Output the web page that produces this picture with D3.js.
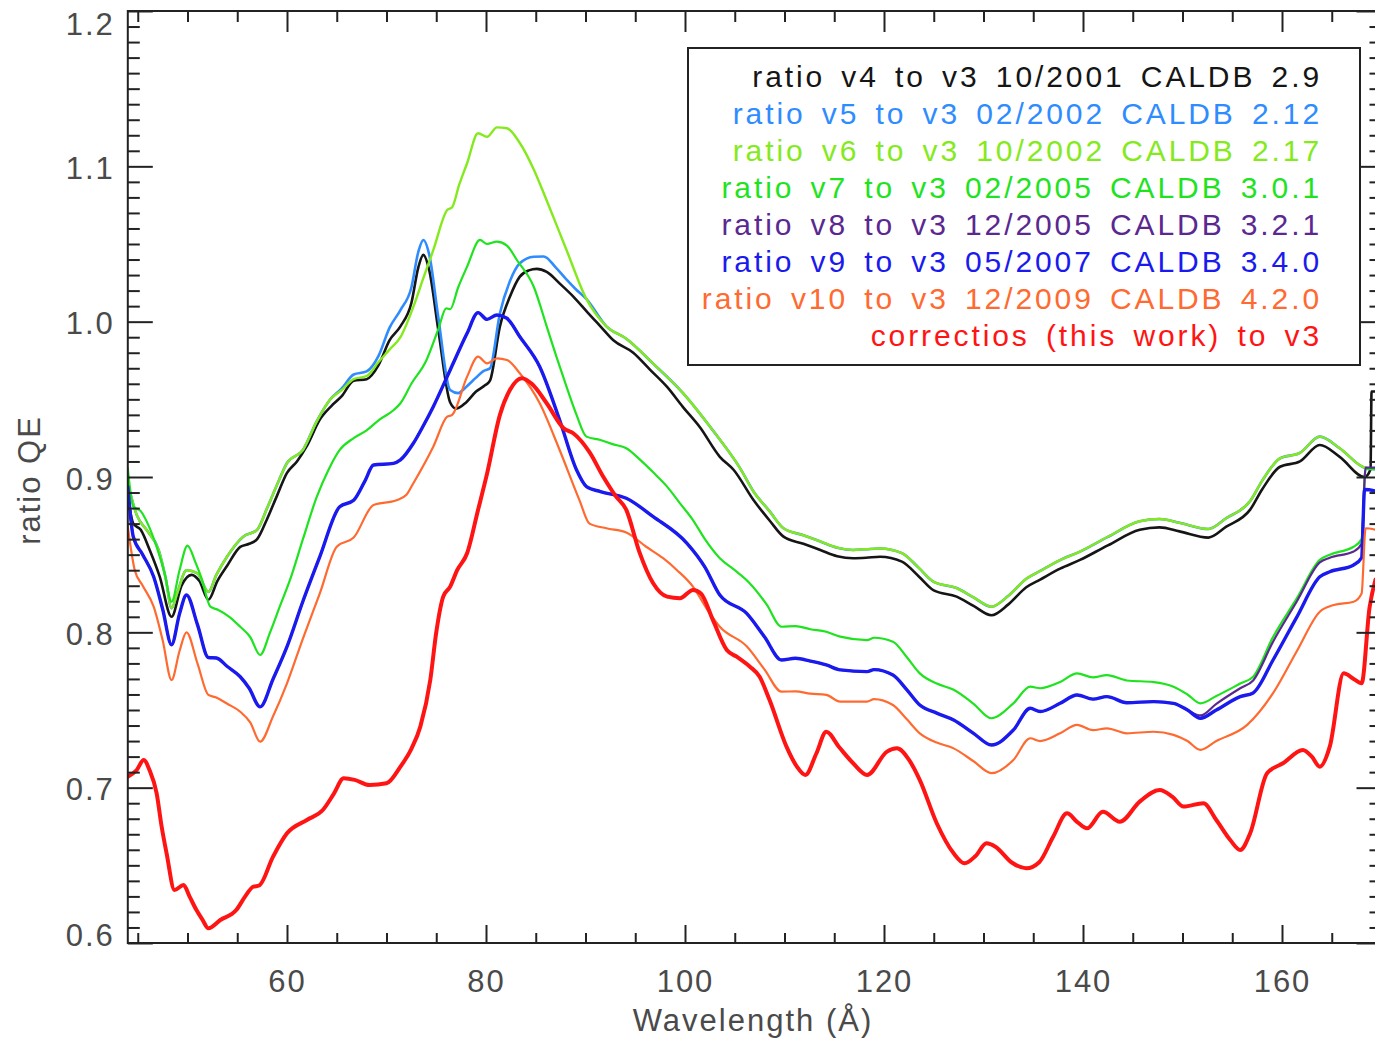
<!DOCTYPE html>
<html>
<head>
<meta charset="utf-8">
<script src="https://cdn.jsdelivr.net/npm/d3@7"></script>
<style>
  html, body { margin: 0; padding: 0; background: #fff; }
  svg { display: block; }
  text { font-family: "Liberation Sans", Arial, sans-serif; }
</style>
</head>
<body>
<svg id="chart" width="1375" height="1041"></svg>
<script>
// ---- data: ratio of QE versions to v3, sampled along wavelength (Angstrom) ----
const v4Wave = [44.0,44.55,45.3,46.2,47.2,48.4,49.4,50.4,51.2,52.1,53.0,54.0,55.3,56.2,57.0,58.0,59.0,60.0,61.0,62.0,63.3,64.5,65.5,66.7,68.0,69.2,70.3,71.4,72.5,73.2,73.7,74.3,75.2,76.4,77.0,78.0,79.0,79.9,80.4,81.4,82.4,83.4,84.3,85.1,86.1,87.5,88.8,90.2,91.5,92.8,94.8,96.5,98.2,99.8,101.5,103.5,104.9,106.9,108.5,109.9,111.9,113.6,115.3,116.9,118.2,119.6,121.8,123.5,125.0,127.3,129.0,130.8,132.5,134.3,135.7,137.7,139.7,142.5,145.7,147.7,149.7,152.6,154.4,156.8,158.0,159.8,161.8,163.8,165.8,168.3,168.9,169.0,169.4];
const v4Ratio = [0.888,0.870,0.866,0.853,0.836,0.810,0.830,0.837,0.833,0.821,0.833,0.843,0.855,0.857,0.860,0.873,0.888,0.9026,0.910,0.920,0.937,0.946,0.952,0.962,0.963,0.972,0.988,0.997,1.012,1.035,1.043,1.033,0.995,0.948,0.944,0.948,0.955,0.959,0.962,0.997,1.016,1.029,1.033,1.034,1.032,1.024,1.016,1.006,0.997,0.988,0.980,0.969,0.958,0.945,0.932,0.913,0.9045,0.885,0.872,0.8616,0.857,0.853,0.849,0.8477,0.848,0.8487,0.8455,0.836,0.827,0.823,0.817,0.811,0.818,0.829,0.834,0.841,0.8466,0.856,0.866,0.8676,0.865,0.861,0.868,0.879,0.892,0.9066,0.910,0.9206,0.913,0.900,0.905,0.955,0.955];

const v5Wave = [44.0,44.9,46.0,47.1,47.8,48.4,49.0,49.9,51.0,52.1,52.9,54.0,55.6,57.0,58.0,59.0,60.0,61.6,63.0,64.3,65.5,66.7,68.0,69.2,70.3,71.4,72.5,73.2,73.7,74.3,75.2,76.4,77.2,78.0,79.0,79.7,80.4,81.4,82.4,83.4,84.8,85.8,87.0,88.1,89.0,90.1,92.1,94.1,96.8,99.8,102.8,105.5,106.9,108.5,109.9,111.9,113.6,115.3,116.9,118.2,119.6,121.8,123.5,125.0,127.3,129.0,130.8,132.5,134.3,135.7,137.7,139.7,142.5,145.7,147.7,149.7,152.6,154.4,156.8,158.0,159.8,161.8,163.8,165.8,168.3,169.4];
const v5Ratio = [0.896,0.8755,0.865,0.853,0.835,0.8155,0.826,0.840,0.838,0.826,0.837,0.849,0.8616,0.866,0.880,0.895,0.909,0.9174,0.936,0.9496,0.957,0.966,0.968,0.978,0.996,1.0075,1.022,1.045,1.0526,1.043,1.003,0.956,0.954,0.958,0.964,0.968,0.970,1.0054,1.026,1.0376,1.0418,1.042,1.035,1.027,1.021,1.0145,0.997,0.989,0.973,0.954,0.930,0.906,0.8905,0.878,0.867,0.8625,0.8585,0.8545,0.853,0.8535,0.854,0.851,0.8415,0.8325,0.8285,0.8225,0.8165,0.8235,0.8345,0.8395,0.8465,0.852,0.8615,0.8715,0.873,0.8705,0.8665,0.8735,0.8845,0.8975,0.912,0.9155,0.926,0.9185,0.906,0.905];

const v6Wave = [44.0,44.9,46.0,47.1,47.8,48.4,49.0,49.9,51.0,52.1,52.9,54.0,55.6,57.0,58.0,59.0,60.0,61.6,63.0,64.3,65.5,66.7,68.0,69.2,70.3,71.4,72.7,73.7,74.7,76.1,76.6,77.3,78.1,79.2,80.1,81.1,82.1,83.4,84.8,86.1,88.1,90.1,92.1,94.1,96.8,99.8,102.8,105.5,106.9,108.5,109.9,111.9,113.6,115.3,116.9,118.2,119.6,121.8,123.5,125.0,127.3,129.0,130.8,132.5,134.3,135.7,137.7,139.7,142.5,145.7,147.7,149.7,152.6,154.4,156.8,158.0,159.8,161.8,163.8,165.8,168.3,169.4];
const v6Ratio = [0.896,0.8755,0.865,0.853,0.835,0.8155,0.826,0.840,0.838,0.826,0.837,0.849,0.8616,0.866,0.880,0.895,0.909,0.9174,0.936,0.9496,0.956,0.963,0.965,0.974,0.982,0.990,1.0096,1.028,1.046,1.0719,1.0737,1.088,1.102,1.1213,1.119,1.1251,1.1245,1.115,1.098,1.078,1.046,1.0145,0.997,0.989,0.973,0.954,0.930,0.906,0.8905,0.878,0.867,0.8625,0.8585,0.8545,0.853,0.8535,0.854,0.851,0.8415,0.8325,0.8285,0.8225,0.8165,0.8235,0.8345,0.8395,0.8465,0.852,0.8615,0.8715,0.873,0.8705,0.8665,0.8735,0.8845,0.8975,0.912,0.9155,0.926,0.9185,0.906,0.905];

const v7Wave = [44.0,44.55,45.3,46.0,46.9,47.7,48.4,49.2,50.0,50.8,51.4,52.3,53.1,54.2,55.3,56.3,57.3,58.3,59.3,60.3,61.6,63.0,64.2,65.3,66.7,68.0,69.3,70.7,71.4,72.5,74.0,75.2,76.0,76.4,77.2,78.1,79.4,80.1,81.1,82.1,83.1,84.8,86.1,87.1,88.1,89.1,90.1,91.5,92.8,94.1,95.5,96.8,98.2,99.5,100.8,102.0,103.5,105.0,106.5,108.2,109.7,111.1,112.6,114.2,115.6,118.3,119.0,120.9,122.3,123.6,125.3,127.0,129.0,130.8,133.0,134.7,135.7,137.7,139.4,141.0,142.4,144.4,147.1,149.1,150.5,151.8,153.4,155.8,157.1,159.1,161.5,163.8,164.8,167.2,168.0,168.4,169.4];
const v7Ratio = [0.9056,0.881,0.878,0.870,0.855,0.838,0.8197,0.840,0.8558,0.845,0.835,0.8165,0.8144,0.810,0.8036,0.797,0.7854,0.800,0.817,0.8337,0.860,0.8873,0.905,0.9174,0.925,0.930,0.937,0.943,0.9475,0.960,0.975,0.995,1.0086,1.008,1.022,1.0354,1.0526,1.050,1.0515,1.049,1.0397,1.0225,0.997,0.977,0.958,0.940,0.926,0.9238,0.921,0.9185,0.911,0.903,0.8938,0.883,0.8723,0.860,0.8477,0.840,0.8316,0.818,0.8036,0.804,0.802,0.8004,0.7972,0.795,0.7965,0.794,0.784,0.7736,0.767,0.763,0.754,0.7447,0.7543,0.765,0.764,0.768,0.7736,0.771,0.7725,0.769,0.768,0.765,0.760,0.7543,0.759,0.767,0.7714,0.797,0.822,0.8466,0.850,0.8551,0.860,0.905,0.905];

const v9Wave = [44.0,44.55,45.5,46.6,47.5,48.4,49.2,49.9,51.0,52.1,52.9,54.0,55.3,56.2,57.3,58.6,60.0,61.6,63.3,65.3,66.7,67.8,68.7,70.7,71.4,72.7,73.7,74.7,76.4,78.1,79.2,80.1,81.1,82.1,83.4,85.4,87.4,89.1,90.1,91.5,94.1,96.8,100.2,102.0,103.5,106.2,108.0,109.7,111.1,112.6,114.2,115.6,118.3,119.0,120.9,122.3,123.6,125.3,127.0,129.0,130.8,133.0,134.7,135.7,137.7,139.4,141.0,142.4,144.4,147.1,149.1,150.5,151.8,153.4,155.8,157.1,159.1,161.5,163.8,164.8,167.2,168.0,168.3,169.4];
const v9Ratio = [0.8938,0.8616,0.850,0.8358,0.815,0.792,0.812,0.824,0.805,0.7838,0.7835,0.778,0.7714,0.764,0.752,0.770,0.7908,0.820,0.8487,0.8809,0.885,0.897,0.9077,0.9088,0.911,0.9217,0.933,0.9453,0.9689,0.9925,1.0058,1.0015,1.0043,1.0022,0.9903,0.971,0.9367,0.9045,0.8938,0.8906,0.8863,0.8745,0.8573,0.842,0.824,0.8122,0.797,0.7822,0.7833,0.7815,0.779,0.7758,0.7747,0.776,0.7725,0.763,0.7532,0.748,0.7436,0.735,0.7275,0.7371,0.7511,0.749,0.7543,0.7597,0.757,0.7586,0.7547,0.7554,0.7543,0.750,0.7447,0.750,0.7586,0.761,0.7822,0.810,0.8358,0.839,0.8434,0.848,0.892,0.891];

// v8 runs under v9 up to ~150 A, then separates towards v7
const v8SharedCount = v9Wave.filter(w => w <= 150.5).length;
const v8Wave = v9Wave.slice(0, v8SharedCount).concat([151.8,153.4,155.8,157.1,159.1,161.5,163.8,164.8,167.2,168.0,168.4,169.4]);
const v8Ratio = v9Ratio.slice(0, v8SharedCount).concat([0.7465,0.754,0.764,0.769,0.794,0.820,0.845,0.848,0.852,0.857,0.906,0.906]);

const v10Wave = [44.0,44.7,45.5,46.6,47.5,48.4,49.2,49.9,51.0,52.1,52.9,54.0,55.3,56.3,57.3,58.6,60.0,61.6,63.3,65.0,66.7,68.7,71.0,72.0,72.7,74.7,76.1,76.6,78.1,79.2,80.1,81.1,82.1,83.4,85.4,87.4,89.4,90.4,92.1,94.1,96.1,97.8,99.2,100.8,102.2,103.5,106.2,108.0,109.7,111.1,112.6,114.2,115.6,118.3,119.0,120.9,122.3,123.6,125.3,127.0,129.0,130.8,133.0,134.7,135.7,137.7,139.4,141.0,142.4,144.4,147.1,149.1,150.5,151.8,153.4,156.5,159.1,161.5,163.8,165.2,167.2,168.0,168.4,169.4];
const v10Ratio = [0.868,0.840,0.830,0.8165,0.795,0.7693,0.788,0.800,0.780,0.7597,0.758,0.754,0.7489,0.742,0.7296,0.746,0.7672,0.796,0.8251,0.8551,0.861,0.882,0.885,0.8885,0.896,0.9195,0.9388,0.940,0.9646,0.9775,0.9732,0.9764,0.9753,0.9668,0.9475,0.9174,0.885,0.870,0.867,0.8643,0.8551,0.8477,0.840,0.8294,0.815,0.8036,0.791,0.776,0.7618,0.762,0.7605,0.7597,0.7554,0.7554,0.757,0.7532,0.744,0.735,0.729,0.7253,0.717,0.7093,0.7178,0.7318,0.730,0.735,0.7404,0.737,0.7382,0.735,0.736,0.734,0.730,0.7243,0.730,0.7404,0.7608,0.788,0.8133,0.8176,0.8197,0.825,0.867,0.866];

const corrWave = [44.0,44.9,45.6,46.2,46.9,47.4,47.9,48.7,49.6,50.2,50.9,51.5,52.1,53.3,54.9,55.8,56.6,57.2,58.6,60.0,62.0,63.6,64.7,65.7,66.8,68.3,70.0,71.4,72.5,73.4,74.4,75.0,75.7,76.4,77.1,78.1,79.2,80.1,81.4,82.4,83.6,84.6,86.1,87.8,88.8,90.4,91.8,93.0,94.1,95.4,96.8,98.2,99.5,100.8,101.6,102.8,104.2,105.2,106.5,107.5,108.5,110.2,111.2,112.1,113.2,114.2,115.5,116.9,118.3,120.3,121.3,122.5,123.6,125.3,127.0,128.1,129.2,130.3,131.2,132.8,134.3,135.6,137.0,138.4,139.4,140.4,142.0,143.7,145.7,147.7,149.0,150.1,152.1,153.4,154.8,155.8,156.8,158.5,160.1,162.1,163.0,163.8,164.8,166.2,167.2,168.0,168.8,169.4];
const corrRatio = [0.7071,0.7114,0.7178,0.711,0.6964,0.675,0.6577,0.6341,0.6373,0.630,0.6212,0.615,0.6095,0.6148,0.6212,0.630,0.6362,0.637,0.6556,0.6706,0.6792,0.6856,0.696,0.706,0.705,0.7017,0.7028,0.7135,0.725,0.7393,0.7693,0.800,0.823,0.8294,0.840,0.8509,0.8788,0.902,0.940,0.956,0.9636,0.960,0.9475,0.9314,0.928,0.916,0.900,0.888,0.8788,0.852,0.8316,0.823,0.822,0.8273,0.825,0.808,0.7886,0.7843,0.778,0.7714,0.7564,0.7264,0.714,0.7082,0.722,0.736,0.726,0.7157,0.7082,0.7232,0.7253,0.718,0.7049,0.6771,0.6577,0.6513,0.656,0.6642,0.662,0.652,0.6481,0.652,0.6684,0.6835,0.678,0.6738,0.6845,0.6781,0.691,0.6985,0.694,0.6878,0.690,0.6792,0.6663,0.6599,0.6706,0.7093,0.7157,0.7243,0.720,0.7135,0.7264,0.7736,0.770,0.7672,0.816,0.834];

const seriesLabels = [
  "ratio v4 to v3 10/2001 CALDB 2.9",
  "ratio v5 to v3 02/2002 CALDB 2.12",
  "ratio v6 to v3 10/2002 CALDB 2.17",
  "ratio v7 to v3 02/2005 CALDB 3.0.1",
  "ratio v8 to v3 12/2005 CALDB 3.2.1",
  "ratio v9 to v3 05/2007 CALDB 3.4.0",
  "ratio v10 to v3 12/2009 CALDB 4.2.0",
  "correctios (this work) to v3"
];
const seriesWaves = [v4Wave, v5Wave, v6Wave, v7Wave, v8Wave, v9Wave, v10Wave, corrWave];
const seriesRatios = [v4Ratio, v5Ratio, v6Ratio, v7Ratio, v8Ratio, v9Ratio, v10Ratio, corrRatio];

const xMajorTicks = [60, 80, 100, 120, 140, 160];
const yMajorTicks = [0.6, 0.7, 0.8, 0.9, 1.0, 1.1, 1.2];

// ---- styling ----
const seriesColors = ["#151515", "#2f8cff", "#84ea1e", "#1fe31f", "#5a2890", "#1a1aee", "#ff6a30", "#ff1414"];
const seriesWidths = [2.6, 2.6, 2.4, 2.2, 2.2, 3.4, 2.2, 4.0];

const svg = d3.select("#chart");
const W = 1375, H = 1041;
const plotLeft = 127.8, plotRight = 1381.5, plotTop = 11, plotBottom = 943;

const x = d3.scaleLinear().domain([44, 170]).range([plotLeft, plotRight]);
const y = d3.scaleLinear().domain([0.6, 1.2]).range([plotBottom, plotTop]);

svg.append("rect").attr("width", W).attr("height", H).attr("fill", "#fff");

svg.append("defs").append("clipPath").attr("id", "plotClip")
  .append("rect").attr("x", plotLeft).attr("y", plotTop)
  .attr("width", plotRight - plotLeft).attr("height", plotBottom - plotTop);

// ---- curves ----
const line = d3.line()
  .x(d => x(d[0]))
  .y(d => y(d[1]))
  .curve(d3.curveMonotoneX);

const curves = svg.append("g").attr("clip-path", "url(#plotClip)");
seriesWaves.forEach((w, i) => {
  const pts = w.map((v, j) => [v, seriesRatios[i][j]]);
  curves.append("path")
    .attr("d", line(pts))
    .attr("fill", "none")
    .attr("stroke", seriesColors[i])
    .attr("stroke-width", seriesWidths[i])
    .attr("stroke-linejoin", "round")
    .attr("stroke-linecap", "round");
});

// ---- axes ----
const axisColor = "#222";
const labelColor = "#4a4a4a";
const xMinor = d3.range(45, 171, 5).filter(v => v % 20 !== 0);
const yMinor = d3.range(60, 121, 1).map(v => v / 100).filter(v => Math.round(v * 100) % 10 !== 0);

function styleAxis(g) {
  g.select(".domain").remove();
  g.selectAll("line").attr("stroke", axisColor).attr("stroke-width", 2);
}

// bottom
svg.append("g").attr("transform", `translate(0,${plotBottom})`)
  .call(d3.axisBottom(x).tickValues(xMinor).tickSize(-10).tickSizeOuter(0).tickFormat(""))
  .call(styleAxis);
const xAxisG = svg.append("g").attr("transform", `translate(0,${plotBottom})`)
  .call(d3.axisBottom(x).tickValues(xMajorTicks).tickSize(-18).tickSizeOuter(0).tickPadding(27).tickFormat(d3.format("d")))
  .call(styleAxis);
xAxisG.selectAll("text")
  .attr("fill", labelColor).attr("font-size", 31).attr("letter-spacing", 2)
  .attr("font-family", "Liberation Sans, Arial, sans-serif");

// top
svg.append("g").attr("transform", `translate(0,${plotTop})`)
  .call(d3.axisTop(x).tickValues(xMinor).tickSize(-11).tickSizeOuter(0).tickFormat(""))
  .call(styleAxis);
svg.append("g").attr("transform", `translate(0,${plotTop})`)
  .call(d3.axisTop(x).tickValues(xMajorTicks).tickSize(-21).tickSizeOuter(0).tickFormat(""))
  .call(styleAxis);

// left
svg.append("g").attr("transform", `translate(${plotLeft},0)`)
  .call(d3.axisLeft(y).tickValues(yMinor).tickSize(-12).tickSizeOuter(0).tickFormat(""))
  .call(styleAxis);
const yAxisG = svg.append("g").attr("transform", `translate(${plotLeft},0)`)
  .call(d3.axisLeft(y).tickValues(yMajorTicks).tickSize(-25).tickSizeOuter(0).tickPadding(13).tickFormat(d3.format(".1f")))
  .call(styleAxis);
yAxisG.selectAll("text")
  .attr("fill", labelColor).attr("font-size", 31).attr("letter-spacing", 2)
  .attr("font-family", "Liberation Sans, Arial, sans-serif")
  .attr("dy", null)
  .attr("y", d => Math.min(Math.max(y(d) + 12, 34), 945) - y(d));

// right
svg.append("g").attr("transform", `translate(${plotRight},0)`)
  .call(d3.axisRight(y).tickValues(yMinor).tickSize(-12).tickSizeOuter(0).tickFormat(""))
  .call(styleAxis);
svg.append("g").attr("transform", `translate(${plotRight},0)`)
  .call(d3.axisRight(y).tickValues(yMajorTicks).tickSize(-25).tickSizeOuter(0).tickFormat(""))
  .call(styleAxis);

// frame
svg.append("rect")
  .attr("x", plotLeft).attr("y", plotTop)
  .attr("width", plotRight - plotLeft).attr("height", plotBottom - plotTop)
  .attr("fill", "none").attr("stroke", axisColor).attr("stroke-width", 2);

// axis titles
svg.append("text")
  .attr("x", 753).attr("y", 1031)
  .attr("text-anchor", "middle")
  .attr("fill", labelColor).attr("font-size", 31).attr("letter-spacing", 2)
  .text("Wavelength (Å)");
svg.append("text")
  .attr("transform", "translate(40,480) rotate(-90)")
  .attr("text-anchor", "middle")
  .attr("fill", labelColor).attr("font-size", 31).attr("letter-spacing", 2)
  .text("ratio QE");

// ---- legend ----
const legend = svg.append("g");
legend.append("rect")
  .attr("x", 688).attr("y", 48).attr("width", 672).attr("height", 317)
  .attr("fill", "#fff").attr("stroke", axisColor).attr("stroke-width", 2);
seriesLabels.forEach((label, i) => {
  legend.append("text")
    .attr("x", 1322).attr("y", 87 + i * 37)
    .attr("text-anchor", "end")
    .attr("fill", seriesColors[i])
    .attr("font-size", 30)
    .attr("letter-spacing", 2.9)
    .attr("word-spacing", 5)
    .text(label);
});
</script>
</body>
</html>
